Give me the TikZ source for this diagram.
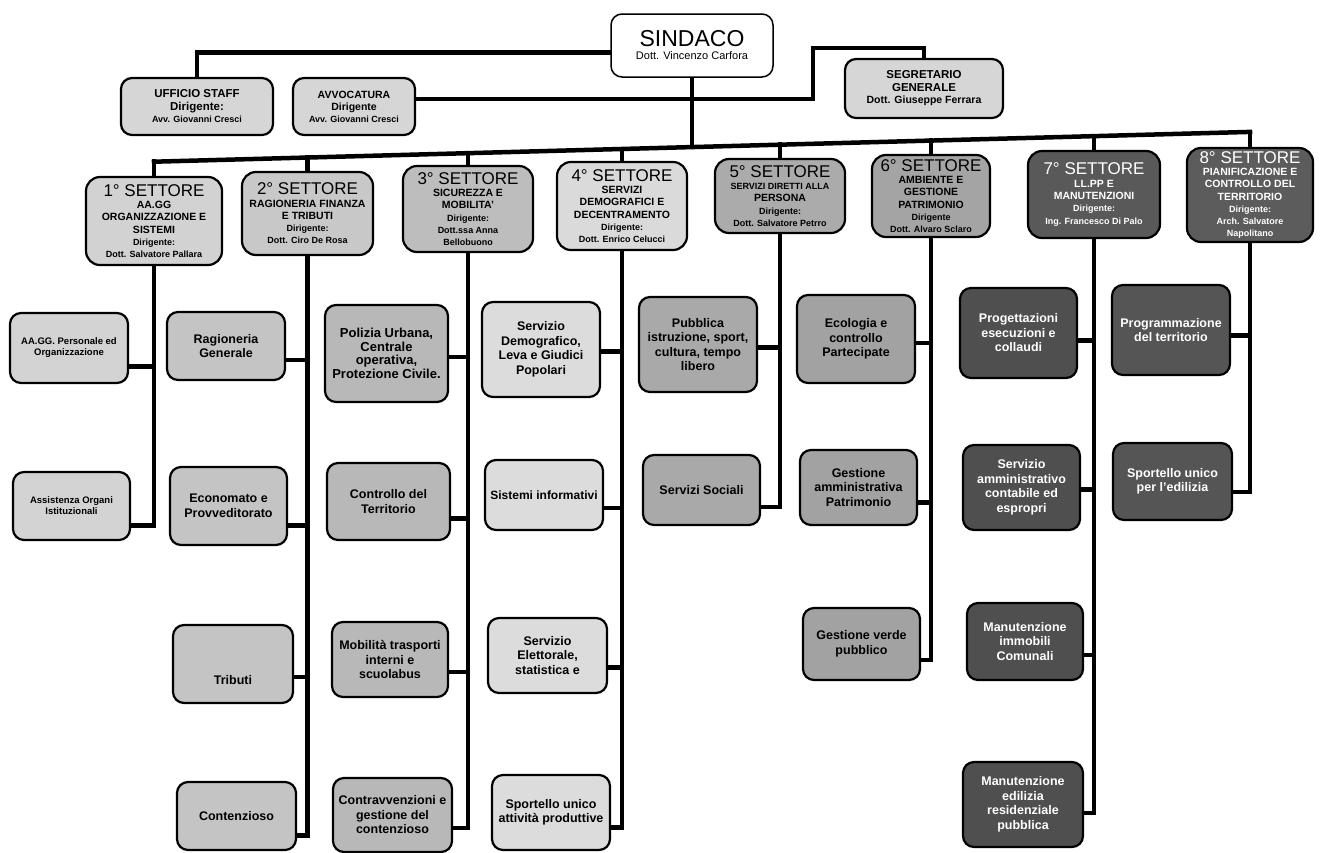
\documentclass[tikz,border=0pt]{standalone}
\usepackage{fontspec}
\setmainfont{Liberation Sans}
\usetikzlibrary{backgrounds}
\definecolor{cTop}{HTML}{D6D6D6}
\definecolor{cA}{HTML}{D2D2D2}
\definecolor{cB}{HTML}{C8C8C8}
\definecolor{cC}{HTML}{BDBDBD}
\definecolor{cD}{HTML}{DADADA}
\definecolor{cE}{HTML}{ABABAB}
\definecolor{cF}{HTML}{A4A4A4}
\definecolor{cG}{HTML}{595959}
\definecolor{cH}{HTML}{5C5C5C}
\definecolor{uA}{HTML}{D3D3D3}
\definecolor{uB}{HTML}{C4C4C4}
\definecolor{uC}{HTML}{B8B8B8}
\definecolor{uD}{HTML}{DCDCDC}
\definecolor{uE}{HTML}{A9A9A9}
\definecolor{uF}{HTML}{A2A2A2}
\definecolor{uG}{HTML}{4F4F4F}
\definecolor{uH}{HTML}{555555}
\newcommand{\sectitle}[1]{{\fontsize{17}{17}\selectfont\mdseries #1}}
\newcommand{\pname}[1]{{\fontsize{9}{10}\selectfont #1}}
\tikzset{
  box/.style={draw=black, line width=2.2pt, rounded corners=11pt, align=center, inner sep=2pt, text=black},
  topbox/.style={box, fill=cTop, font=\bfseries\fontsize{11.5}{12.5}\selectfont},
  secbox/.style={box, rounded corners=14pt, font=\bfseries\fontsize{10.5}{12.3}\selectfont},
  subbox/.style={box, font=\bfseries\fontsize{12.5}{14.5}\selectfont},
  smallsub/.style={box, fill=uA, font=\bfseries\fontsize{9.5}{11}\selectfont},
  darktext/.style={text=white},
  conn/.style={draw=black, line width=4.5pt, line cap=rect},
}
\begin{document}
\begin{tikzpicture}[x=1pt,y=-1pt]
\useasboundingbox (0,0) rectangle (1324,852);
% top level
\node[box, line width=1.5pt, fill=white, minimum width=162pt, minimum height=63pt, font=\fontsize{11}{13}\selectfont] (sindaco) at (692,45.5) {{\fontsize{23}{24}\selectfont SINDACO}\\Dott. Vincenzo Carfora};
\node[topbox, minimum width=152pt, minimum height=57pt] (staff) at (197,106.5) {UFFICIO STAFF\\Dirigente:\\\pname{Avv. Giovanni Cresci}};
\node[topbox, minimum width=122pt, minimum height=57pt, font=\bfseries\fontsize{10.5}{12}\selectfont] (avv) at (354,106.5) {AVVOCATURA\\Dirigente\\\pname{Avv. Giovanni Cresci}};
\node[topbox, minimum width=158pt, minimum height=59pt] (segr) at (924,88.5) {SEGRETARIO\\GENERALE\\{\fontsize{10.5}{12}\selectfont Dott. Giuseppe Ferrara}};
% sectors
\node[secbox, fill=cA, minimum width=136pt, minimum height=88pt] (s1) at (154,221) {\sectitle{1° SETTORE}\\AA.GG\\ORGANIZZAZIONE E\\SISTEMI\\\pname{Dirigente:}\\\pname{Dott. Salvatore Pallara}};
\node[secbox, fill=cB, minimum width=131pt, minimum height=83pt] (s2) at (307.5,213.5) {\sectitle{2° SETTORE}\\RAGIONERIA FINANZA\\E TRIBUTI\\\pname{Dirigente:}\\\pname{Dott. Ciro De Rosa}};
\node[secbox, fill=cC, minimum width=130pt, minimum height=86pt] (s3) at (468,209) {\sectitle{3° SETTORE}\\SICUREZZA E\\MOBILITA'\\\pname{Dirigente:}\\\pname{Dott.ssa Anna}\\\pname{Bellobuono}};
\node[secbox, fill=cD, minimum width=130pt, minimum height=88pt] (s4) at (622,206) {\sectitle{4° SETTORE}\\SERVIZI\\DEMOGRAFICI E\\DECENTRAMENTO\\\pname{Dirigente:}\\\pname{Dott. Enrico Celucci}};
\node[secbox, fill=cE, minimum width=130pt, minimum height=74pt] (s5) at (780,196) {\sectitle{5° SETTORE}\\\pname{SERVIZI DIRETTI ALLA}\\PERSONA\\\pname{Dirigente:}\\\pname{Dott. Salvatore Petrro}};
\node[secbox, fill=cF, minimum width=118pt, minimum height=82pt] (s6) at (931,196) {\sectitle{6° SETTORE}\\AMBIENTE E\\GESTIONE\\PATRIMONIO\\\pname{Dirigente}\\\pname{Dott. Alvaro Sclaro}};
\node[secbox, fill=cG, darktext, minimum width=132pt, minimum height=87pt] (s7) at (1094,194.5) {\sectitle{7° SETTORE}\\LL.PP E\\MANUTENZIONI\\\pname{Dirigente:}\\\pname{Ing. Francesco Di Palo}};
\node[secbox, fill=cH, darktext, minimum width=126pt, minimum height=94pt] (s8) at (1250,195) {\sectitle{8° SETTORE}\\PIANIFICAZIONE E\\CONTROLLO DEL\\TERRITORIO\\\pname{Dirigente:}\\\pname{Arch. Salvatore}\\\pname{Napolitano}};
% column 1
\node[smallsub, minimum width=118pt, minimum height=70pt] (aagg) at (69,348) {AA.GG. Personale ed\\Organizzazione};
\node[smallsub, minimum width=117pt, minimum height=68pt] (assist) at (71.5,506) {Assistenza Organi\\Istituzionali};
% column 2
\node[subbox, fill=uB, minimum width=118pt, minimum height=68pt] (rag) at (226,346) {Ragioneria\\Generale};
\node[subbox, fill=uB, minimum width=117pt, minimum height=78pt] (econ) at (228.5,506) {Economato e\\Provveditorato};
\node[subbox, fill=uB, minimum width=120pt, minimum height=78pt] (trib) at (233,664) {\raisebox{-20pt}[0pt][0pt]{Tributi}};
\node[subbox, fill=uB, minimum width=119pt, minimum height=68pt] (cont) at (236.5,816) {Contenzioso};
% column 3
\node[subbox, fill=uC, minimum width=123pt, minimum height=97pt, font=\bfseries\fontsize{13}{13.5}\selectfont] (pol) at (386.5,353.5) {Polizia Urbana,\\Centrale\\operativa,\\Protezione Civile.};
\node[subbox, fill=uC, minimum width=123pt, minimum height=77pt] (contr) at (388.5,501.5) {Controllo del\\Territorio};
\node[subbox, fill=uC, minimum width=116pt, minimum height=75pt] (mob) at (390,659.5) {Mobilità trasporti\\interni e\\scuolabus};
\node[subbox, fill=uC, minimum width=119pt, minimum height=74pt] (contrav) at (392.5,815) {Contravvenzioni e\\gestione del\\contenzioso};
% column 4
\node[subbox, fill=uD, minimum width=118pt, minimum height=95pt] (demo) at (541,349.5) {Servizio\\Demografico,\\Leva e Giudici\\Popolari};
\node[subbox, fill=uD, minimum width=118pt, minimum height=70pt, font=\bfseries\fontsize{12}{14}\selectfont] (sist) at (544,495) {Sistemi informativi};
\node[subbox, fill=uD, minimum width=119pt, minimum height=75pt] (elet) at (547.5,655.5) {Servizio\\Elettorale,\\statistica e};
\node[subbox, fill=uD, minimum width=118pt, minimum height=75pt] (sportap) at (551,812.5) {Sportello unico\\attività produttive};
% column 5
\node[subbox, fill=uE, minimum width=118pt, minimum height=95pt] (pubb) at (698,344.5) {Pubblica\\istruzione, sport,\\cultura, tempo\\libero};
\node[subbox, fill=uE, minimum width=117pt, minimum height=70pt] (soc) at (701.5,490) {Servizi Sociali};
% column 6
\node[subbox, fill=uF, minimum width=118pt, minimum height=88pt] (eco) at (856,339) {Ecologia e\\controllo\\Partecipate};
\node[subbox, fill=uF, minimum width=117pt, minimum height=75pt] (gest) at (858.5,487.5) {Gestione\\amministrativa\\Patrimonio};
\node[subbox, fill=uF, minimum width=117pt, minimum height=72pt] (verde) at (861.5,644) {Gestione verde\\pubblico};
% column 7
\node[subbox, fill=uG, darktext, minimum width=117pt, minimum height=90pt] (prog) at (1018.5,333) {Progettazioni\\esecuzioni e\\collaudi};
\node[subbox, fill=uG, darktext, minimum width=117pt, minimum height=85pt] (servamm) at (1021.5,487.5) {Servizio\\amministrativo\\contabile ed\\espropri};
\node[subbox, fill=uG, darktext, minimum width=116pt, minimum height=77pt] (manimm) at (1025,641.5) {Manutenzione\\immobili\\Comunali};
\node[subbox, fill=uG, darktext, minimum width=120pt, minimum height=85pt] (manedil) at (1023,804.5) {Manutenzione\\edilizia\\residenziale\\pubblica};
% column 8
\node[subbox, fill=uH, darktext, minimum width=118pt, minimum height=90pt] (progr) at (1171,330) {Programmazione\\del territorio};
\node[subbox, fill=uH, darktext, minimum width=119pt, minimum height=77pt] (sped) at (1172.5,481.5) {Sportello unico\\per l'edilizia};
% bus coordinates
\coordinate (k1) at (813,100);
\coordinate (k2) at (813,48);
\coordinate (bS) at (692,147.1);
\coordinate (b1) at (154,161.7);
\coordinate (b2) at (307.5,157.5);
\coordinate (b3) at (468,153.2);
\coordinate (b4) at (622,149.0);
\coordinate (b5) at (780,144.7);
\coordinate (b6) at (931,140.6);
\coordinate (b7) at (1094,136.1);
\coordinate (b8) at (1250,131.9);
\begin{scope}[on background layer]
\draw[conn] (sindaco.185) -| (staff.north);
\draw[conn] (avv.7) -- (avv.7 -| k1) -- (k2) -| (segr.north);
\draw[conn] (sindaco.south) -- (bS);
\draw[conn] (b1) -- (b8);
\foreach \i in {1,...,8} {\draw[conn] (s\i.north) -- (b\i);}
% column trunks
\draw[conn] (s1.south) |- (assist.-18);
\draw[conn] (aagg.-17) -- (aagg.-17 -| s1.south);
\draw[conn] (s2.south) |- (cont.-18);
\draw[conn] (rag.-13) -- (rag.-13 -| s2.south);
\draw[conn] (econ.-18) -- (econ.-18 -| s2.south);
\draw[conn] (trib.-12) -- (trib.-12 -| s2.south);
\draw[conn] (s3.south) |- (contrav.-12);
\draw[conn] (pol.-3) -- (pol.-3 -| s3.south);
\draw[conn] (contr.-15) -- (contr.-15 -| s3.south);
\draw[conn] (mob.-12) -- (mob.-12 -| s3.south);
\draw[conn] (s4.south) |- (sportap.-14);
\draw[conn] (demo.-2) -- (demo.-2 -| s4.south);
\draw[conn] (sist.-12) -- (sist.-12 -| s4.south);
\draw[conn] (elet.-11) -- (elet.-11 -| s4.south);
\draw[conn] (s5.south) |- (soc.-16);
\draw[conn] (pubb.-3) -- (pubb.-3 -| s5.south);
\draw[conn] (s6.south) |- (verde.-15);
\draw[conn] (eco.-4) -- (eco.-4 -| s6.south);
\draw[conn] (gest.-14) -- (gest.-14 -| s6.south);
\draw[conn] (s7.south) |- (manedil.-8);
\draw[conn] (prog.-7) -- (prog.-7 -| s7.south);
\draw[conn] (servamm.-2) -- (servamm.-2 -| s7.south);
\draw[conn] (manimm.-13) -- (manimm.-13 -| s7.south);
\draw[conn] (s8.south) |- (sped.-10);
\draw[conn] (progr.-5) -- (progr.-5 -| s8.south);
\end{scope}
\end{tikzpicture}
\end{document}
